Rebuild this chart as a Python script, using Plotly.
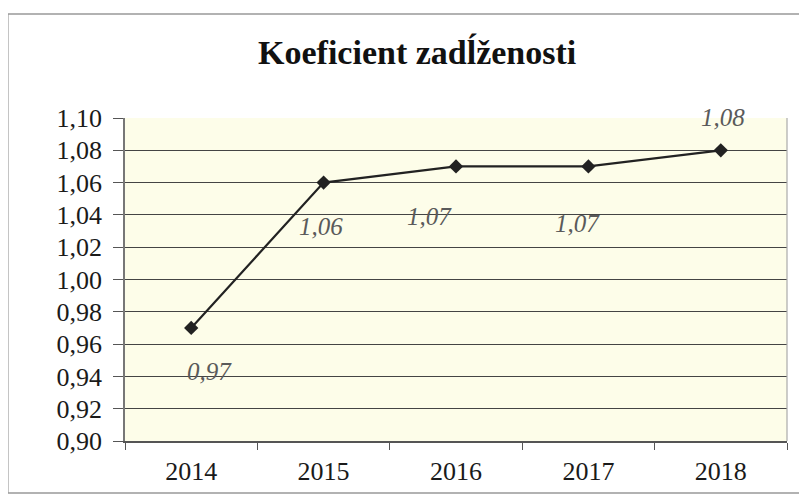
import plotly.graph_objects as go

years = ["2014", "2015", "2016", "2017", "2018"]
values = [0.97, 1.06, 1.07, 1.07, 1.08]
labels = ["0,97", "1,06", "1,07", "1,07", "1,08"]
y_ticks = [0.90, 0.92, 0.94, 0.96, 0.98, 1.00, 1.02, 1.04, 1.06, 1.08, 1.10]
y_ticktext = [("%.2f" % v).replace(".", ",") for v in y_ticks]

SERIF = "Liberation Serif"

# label offsets (px) relative to each point
shifts = [(18, -44), (-3, -44), (-27, -50), (-11, -57), (2, 33)]

fig = go.Figure()
fig.add_trace(go.Scatter(
    x=years, y=values, mode="lines+markers",
    line=dict(color="#222222", width=2.2),
    marker=dict(symbol="diamond", size=11, color="#222222"),
    showlegend=False,
))

# on a category axis annotations take the category index
for i, (v, lab, (dx, dy)) in enumerate(zip(values, labels, shifts)):
    fig.add_annotation(
        x=i, y=v, text="<i>" + lab + "</i>", showarrow=False,
        xshift=dx, yshift=dy,
        font=dict(family=SERIF, size=25, color="#5a5a5a"),
    )

# outer chart frame
fig.add_shape(
    type="rect", xref="paper", yref="paper",
    x0=-0.177, x1=1.027, y0=-0.161, y1=1.322,
    line=dict(color="#999999", width=1.5), fillcolor="rgba(0,0,0,0)",
    layer="below",
)

fig.update_layout(
    width=807, height=495,
    margin=dict(l=117, r=28, t=110, b=62),
    paper_bgcolor="white",
    plot_bgcolor="#fdfde9",
    font=dict(family=SERIF, size=26, color="#1a1a1a"),
    title=dict(
        text="<b>Koeficient zadĺženosti</b>",
        x=0.507, xref="container", xanchor="center",
        y=0.911, yref="container", yanchor="middle",
        font=dict(family=SERIF, size=34, color="#111111"),
    ),
)
fig.update_xaxes(
    type="category",
    range=[-0.5, 4.5],
    showgrid=False,
    showline=True, linecolor="#555555", linewidth=1.5,
    ticks="outside", ticklen=7, tickcolor="#555555",
    tickson="boundaries",
    tickangle=0,
    ticklabelstandoff=6,
    tickfont=dict(family=SERIF, size=26, color="#1a1a1a"),
)
fig.update_yaxes(
    range=[0.90, 1.10],
    tickvals=y_ticks, ticktext=y_ticktext,
    showgrid=True, gridcolor="#444444", gridwidth=1,
    showline=True, linecolor="#777777", linewidth=1.5,
    ticks="outside", ticklen=10, tickcolor="#555555",
    ticklabelstandoff=6,
    zeroline=False,
    tickfont=dict(family=SERIF, size=26, color="#1a1a1a"),
)
# right border of plot area
fig.add_shape(
    type="line", xref="paper", yref="paper",
    x0=1, x1=1, y0=0, y1=1,
    line=dict(color="#aaaaaa", width=1.2),
)

fig.write_html("out.html")
